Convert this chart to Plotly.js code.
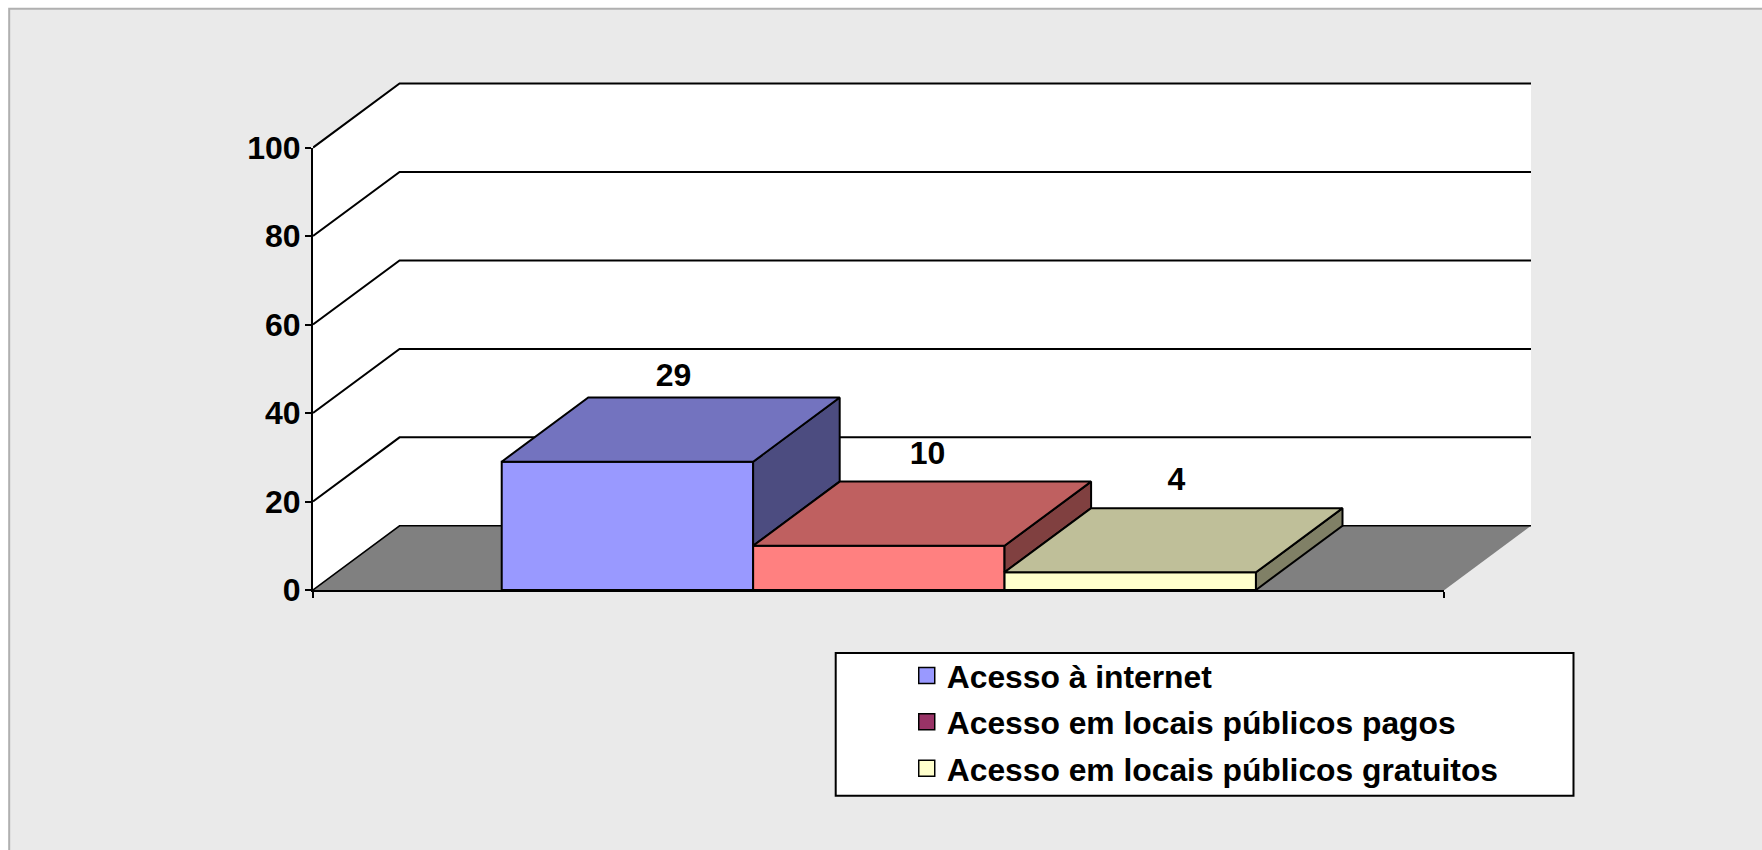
<!DOCTYPE html>
<html><head><meta charset="utf-8">
<script src="https://cdn.plot.ly/plotly-3.0.1.min.js"></script>
<style>html,body{margin:0;padding:0;background:#fff}</style></head>
<body><div id="chart" style="width:1762px;height:850px"></div>
<script>
var seriesNames = ['Acesso à internet','Acesso em locais públicos pagos','Acesso em locais públicos gratuitos'];
var seriesValues = [29,10,4];
var yTicks = [0,20,40,60,80,100];
var frontColors = ['#9999FF','#FF8080','#FFFFCC'];
var topColors = ['#7373BF','#BF6060','#BFBF99'];
var sideColors = ['#4C4C80','#804040','#808066'];
var legendColors = ['#9999FF','#993366','#FFFFCC'];

var W=1762,H=850,L=313,BOTTOM=590,FRONTW=1131,FRONTH=442;
var DX=0.0765, DY=14.5, YPAD=1, BAR0=0.1668, BARW=0.2222;
var LABEL_LIFT=[19.0,20.3,20.3], LABEL_NUDGE=[0.0025,0.0048,0.0025];
var FONT='"Liberation Sans", Arial, sans-serif', FS=32, LEGEND_FS=31.8;
var yMax=yTicks[yTicks.length-1], yTop=yMax+DY+YPAD;
var PW=FRONTW*(1+DX), PH=FRONTH*yTop/yMax, T=BOTTOM-PH;
function px(p){return (p-L)/PW}
function py(p){return (BOTTOM-p)/PH}

var traces=[];
function poly(xs,ys,fill,lineW){
  traces.push({type:'scatter',mode:'lines',x:xs,y:ys,fill:'toself',fillcolor:fill,
    line:{color:'#000',width:lineW},showlegend:false,hoverinfo:'skip',xaxis:'x2',yaxis:'y2'});
}
// walls and floor on the lowest subplot
traces.push({type:'scatter',mode:'lines',x:[0,DX,1+DX,1+DX,DX,0,0],y:[0,DY,DY,yMax+DY,yMax+DY,yMax,0],
  fill:'toself',fillcolor:'#FFFFFF',line:{width:0},showlegend:false,hoverinfo:'skip'});
traces.push({type:'scatter',mode:'lines',x:[0,DX,1+DX,1,0],y:[0,DY,DY,0,0],
  fill:'toself',fillcolor:'#808080',line:{width:0},showlegend:false,hoverinfo:'skip'});
yTicks.forEach(function(v){
  traces.push({type:'scatter',mode:'lines',x:[0,DX,1+DX],y:[v,v+DY,v+DY],
    line:{color:'#000',width:v===0?1.5:2},showlegend:false,hoverinfo:'skip'});
});
// bars: front faces through the bar trace, depth faces from the same values
seriesValues.forEach(function(v,i){
  var x0=BAR0+i*BARW;
  traces.push({type:'bar',x:[x0+BARW/2],y:[v],width:[BARW],marker:{color:frontColors[i],line:{color:'#000',width:2}},
    cliponaxis:false,showlegend:false,hoverinfo:'skip',xaxis:'x2',yaxis:'y2'});
});
seriesValues.forEach(function(v,i){
  var x0=BAR0+i*BARW, x1=x0+BARW;
  var nextV=i+1<seriesValues.length?seriesValues[i+1]:0;
  poly([x1,x1+DX,x1+DX,x1,x1],[nextV,nextV+DY,v+DY,v,nextV],sideColors[i],2);
  poly([x0,x0+DX,x1+DX,x1,x0],[v,v+DY,v+DY,v,v],topColors[i],2);
});
// value labels
traces.push({type:'scatter',mode:'text',
  x:seriesValues.map(function(v,i){return BAR0+i*BARW+(BARW+DX)/2+LABEL_NUDGE[i]}),
  y:seriesValues.map(function(v,i){return v+LABEL_LIFT[i]}),
  text:seriesValues.map(String),textposition:'middle center',
  textfont:{family:FONT,size:FS,color:'#000',weight:700},cliponaxis:false,showlegend:false,hoverinfo:'skip',xaxis:'x2',yaxis:'y2'});
// legend entries
seriesNames.forEach(function(n,i){
  traces.push({type:'scatter',mode:'markers',x:[null],y:[null],name:n,legendgroup:'g'+i,
    marker:{symbol:'square',size:16,color:legendColors[i],line:{color:'#000',width:1.5}},
    xaxis:'x2',yaxis:'y2',hoverinfo:'skip'});
});
// visible axes: front plane of the chart
traces.push({type:'scatter',mode:'markers',x:[null],y:[null],showlegend:false,hoverinfo:'skip',xaxis:'x3',yaxis:'y3'});

var fullX={range:[0,1+DX],domain:[0,1],visible:false,fixedrange:true};
var fullY={range:[0,yTop],domain:[0,1],visible:false,fixedrange:true};
var layout={
  width:W,height:H,autosize:false,
  paper_bgcolor:'#FFFFFF',plot_bgcolor:'rgba(0,0,0,0)',
  margin:{l:L,t:T,r:W-L-PW,b:H-BOTTOM,pad:0,autoexpand:false},
  showlegend:true,barmode:'overlay',
  font:{family:FONT,color:'#000'},
  xaxis:fullX,yaxis:fullY,
  xaxis2:{range:[0,1+DX],overlaying:'x',visible:false,fixedrange:true},
  yaxis2:{range:[0,yTop],overlaying:'y',visible:false,fixedrange:true},
  xaxis3:{anchor:'y3',domain:[0,1/(1+DX)],range:[0,1],tickvals:[0,1],showticklabels:false,ticks:'outside',ticklen:6,tickwidth:2,tickcolor:'#000',
    showline:true,linecolor:'#000',linewidth:2,showgrid:false,zeroline:false,fixedrange:true},
  yaxis3:{anchor:'x3',domain:[0,yMax/yTop],range:[0,yMax],tickvals:yTicks,ticks:'outside',ticklen:6,tickwidth:2,tickcolor:'#000',
    showline:true,linecolor:'#000',linewidth:2,showgrid:false,zeroline:false,fixedrange:true,ticklabelstandoff:-2,
    tickfont:{family:FONT,size:FS,color:'#000',weight:700}},
  legend:{x:px(906.5),y:py(648.3),xanchor:'left',yanchor:'top',bgcolor:'rgba(0,0,0,0)',borderwidth:0,
    traceorder:'grouped',tracegroupgap:2,itemsizing:'trace',font:{family:FONT,size:LEGEND_FS,color:'#000',weight:700}},
  shapes:[
    {type:'rect',xref:'paper',yref:'paper',layer:'below',x0:px(9.3),x1:px(W+20),y0:py(9.3),y1:py(H+20),
      fillcolor:'#EAEAEA',line:{color:'#B0B0B0',width:2}},
    {type:'rect',xref:'paper',yref:'paper',layer:'below',x0:px(835.5),x1:px(1573),y0:py(653),y1:py(795.5),
      fillcolor:'#FFFFFF',line:{color:'#000',width:2}}
  ]
};
Plotly.newPlot('chart',traces,layout,{displayModeBar:false,staticPlot:true});
</script></body></html>
